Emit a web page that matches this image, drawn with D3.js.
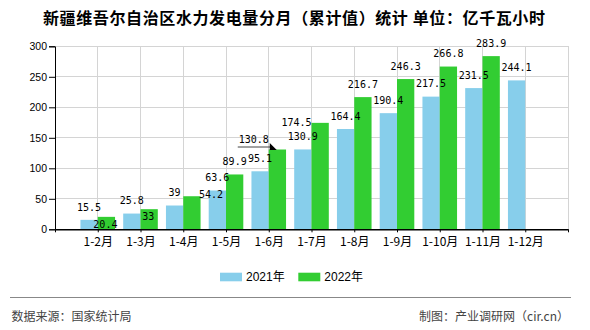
<!DOCTYPE html>
<html><head><meta charset="utf-8">
<script src="https://cdn.jsdelivr.net/npm/d3@7/dist/d3.min.js"></script>
<style>body{margin:0;background:#fff}svg{display:block}</style>
</head><body>
<svg id="c" width="590" height="330"></svg>
<script>
// ---- data ----
const categories = ["1-2月","1-3月","1-4月","1-5月","1-6月","1-7月","1-8月","1-9月","1-10月","1-11月","1-12月"];
const values2021 = [15.5, 25.8, 39, 63.6, 95.1, 130.9, 164.4, 190.4, 217.5, 231.5, 244.1];
const values2022 = [20.4, 33, 54.2, 89.9, 130.8, 174.5, 216.7, 246.3, 266.8, 283.9, null];
const seriesNames = ["2021年","2022年"];
const yTicks = [0, 50, 100, 150, 200, 250, 300];
const titleText = "新疆维吾尔自治区水力发电量分月（累计值）统计  单位：亿千瓦小时";
const sourceText = "数据来源：国家统计局";
const creditText = "制图：产业调研网（cir.cn）";

(function () {
// ---- layout ----
const colors = ["#87CEEB", "#32CD32"];
const svg = d3.select("#c");
const pL = 55, pR = 568, pT = 46.3, pB = 229.3;
const domain = ["_start", ...categories, "_end"];
const x = d3.scalePoint().domain(domain).range([pL, pR]);
const y = d3.scaleLinear().domain([0, 300]).range([pB, pT]);
const bw = 17.3;

// title
svg.append("text").attr("x", 43).attr("y", 24)
  .attr("font-family", "'Noto Sans CJK SC', sans-serif").attr("font-size", 16).attr("font-weight", "bold")
  .attr("textLength", 502).attr("lengthAdjust", "spacing")
  .attr("fill", "#000").text(titleText);

// grid
const g = svg.append("g");
g.selectAll(".hg").data(yTicks.slice(1)).join("line")
  .attr("x1", pL).attr("x2", pR).attr("y1", d => y(d)).attr("y2", d => y(d))
  .attr("stroke", "#d4d4d4").attr("stroke-width", 1).attr("shape-rendering", "crispEdges");
g.selectAll(".vg").data(domain.slice(1)).join("line")
  .attr("x1", d => x(d)).attr("x2", d => x(d)).attr("y1", pT).attr("y2", pB)
  .attr("stroke", "#d4d4d4").attr("stroke-width", 1).attr("shape-rendering", "crispEdges");

// bars
const bars = svg.append("g");
bars.selectAll(".b1").data(categories.map((c, i) => ({c, v: values2021[i]}))).join("rect")
  .attr("x", d => x(d.c) - bw).attr("width", bw)
  .attr("y", d => y(d.v)).attr("height", d => pB - y(d.v)).attr("fill", colors[0]);
bars.selectAll(".b2").data(categories.map((c, i) => ({c, v: values2022[i]})).filter(d => d.v != null)).join("rect")
  .attr("x", d => x(d.c)).attr("width", bw)
  .attr("y", d => y(d.v)).attr("height", d => pB - y(d.v)).attr("fill", colors[1]);

// axes
const yAxis = svg.append("g").attr("transform", `translate(${pL},0)`)
  .call(d3.axisLeft(y).tickValues(yTicks).tickSize(6).tickPadding(2).tickFormat(d3.format("d")));
yAxis.select(".domain").attr("stroke", "#000");
yAxis.selectAll("line").attr("stroke", "#000");
yAxis.selectAll("text").attr("font-family", "'Liberation Sans', Arial, sans-serif").attr("font-size", 10.5).attr("fill", "#000");

const xAxis = svg.append("g").attr("transform", `translate(0,${pB})`)
  .call(d3.axisBottom(x).tickSize(3).tickPadding(5).tickSizeOuter(0).tickFormat(d => d.startsWith("_") ? "" : d));
xAxis.select(".domain").attr("stroke", "#000").attr("stroke-width", 1.5);
xAxis.selectAll("line").attr("stroke", "#000");
xAxis.selectAll("text").attr("font-family", "'Noto Sans CJK SC', sans-serif").attr("font-size", 12).attr("fill", "#000");

// value labels
const lf = "'DejaVu Sans Mono', 'Liberation Mono', monospace";
const lab = svg.append("g").attr("font-family", lf).attr("font-size", 10).attr("fill", "#000");
function label(xp, yp, t, anchor) {
  lab.append("text").attr("x", xp).attr("y", yp).attr("dy", "0.35em")
    .attr("text-anchor", anchor || "middle").text(t);
}
categories.forEach((c, i) => {
  const cx = x(c) - bw / 2;
  label(cx, y(values2021[i]) - 12.7, values2021[i]);
});
// placement modes for 2022 labels (overlap avoidance as in the original)
const mode2022 = {0: "inside", 1: "inside", 2: "right", 4: "leader", 5: "left"};
categories.forEach((c, i) => {
  const v = values2022[i];
  if (v == null) return;
  const bl = x(c), cx = bl + bw / 2, yt = y(v), m = mode2022[i];
  if (m === "inside") label(cx - 1, yt + 7.4, v);
  else if (m === "right") label(bl + bw - 1.5, yt - 1.6, v, "start");
  else if (m === "left") label(bl, yt, v, "end");
  else if (m === "leader") {
    label(bl - 15, yt - 9.7, v);
    svg.append("line").attr("x1", bl - 31).attr("x2", bl + 4).attr("y1", yt - 2.5).attr("y2", yt - 2.5)
      .attr("stroke", "#444").attr("stroke-width", 1);
    svg.append("path").attr("d", `M${bl + 1},${yt - 6.5} L${bl + 8},${yt + 0.5} L${bl + 1},${yt + 0.5} Z`).attr("fill", "#000");
  } else label(cx, yt - 12.7, v);
});

// legend
const lg = svg.append("g");
const lx = [220, 298.3];
seriesNames.forEach((s, i) => {
  lg.append("rect").attr("x", lx[i]).attr("y", 272.7).attr("width", 22).attr("height", 8.6).attr("fill", colors[i]);
  lg.append("text").attr("x", lx[i] + 26).attr("y", 281.3)
    .attr("font-family", "'Liberation Sans', Arial, 'Noto Sans CJK SC', sans-serif").attr("font-size", 12)
    .attr("fill", "#000").text(s);
});

// footer
svg.append("line").attr("x1", 10).attr("x2", 571).attr("y1", 297.5).attr("y2", 297.5)
  .attr("stroke", "#888").attr("stroke-width", 1.2);
svg.append("text").attr("x", 11.5).attr("y", 321)
  .attr("font-family", "'Noto Sans CJK SC', sans-serif").attr("font-size", 12).attr("fill", "#444").text(sourceText);
svg.append("text").attr("x", 569).attr("y", 321).attr("text-anchor", "end")
  .attr("font-family", "'Noto Sans CJK SC', sans-serif").attr("font-size", 12).attr("fill", "#444").text(creditText);
})();
</script>
</body></html>
